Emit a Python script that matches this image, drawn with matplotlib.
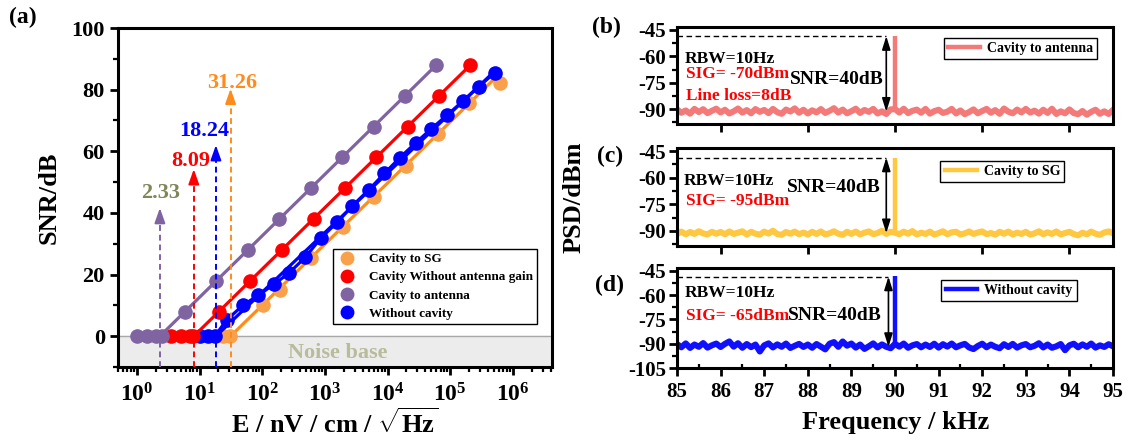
import numpy as np
import matplotlib
matplotlib.use('Agg')
import matplotlib.pyplot as plt
from matplotlib.ticker import LogLocator, MultipleLocator, FixedLocator, NullFormatter, LogFormatterMathtext
from matplotlib.lines import Line2D

plt.rcParams.update({
    'font.family': ['Liberation Serif', 'DejaVu Serif'],
    'font.weight': 'bold',
    'mathtext.fontset': 'custom',
    'mathtext.rm': 'Liberation Serif:bold',
    'mathtext.it': 'Liberation Serif:italic:bold',
    'mathtext.bf': 'Liberation Serif:bold',
    'axes.unicode_minus': False,
    'axes.linewidth': 2.2,
})

# ---------------- panel (a) data ----------------
sg_x = [23.5, 30.4, 102, 191, 595, 1920, 6100, 19600, 63000, 200000, 620000]
sg_y = [0, 0, 10, 15, 25.3, 35.3, 45.3, 55.3, 65.5, 75.6, 82]
sg_fit_x = [31.26, 560000]
sg_fit_y = [0, 84.4]

nogain_x = [3.5, 5.0, 7.0, 8.0, 20.5, 65, 207, 660, 2100, 6600, 21000, 66000, 210000]
nogain_y = [0, 0, 0, 0, 8, 18, 28, 38, 48, 58, 68, 78, 88]
nogain_fit_x = [8.09, 210000]
nogain_fit_y = [0, 88]

ant_x = [1.0, 1.45, 2.05, 2.5, 5.9, 18.5, 59, 188, 600, 1900, 6000, 19000, 60000]
ant_y = [0, 0, 0, 0, 8, 18, 28, 38, 48, 58, 68, 78, 88]
ant_fit_x = [2.33, 60000]
ant_fit_y = [0, 88]

nocav_x = [10, 13.5, 17.5, 27, 49, 87, 153, 268, 486, 867, 1580, 2750, 5020,
           8900, 15500, 28300, 50000, 89800, 160000, 283000, 510000]
nocav_y = [0, 0, 0, 5.2, 10, 13.3, 16.8, 20.5, 25.6, 31.9, 37, 42.3, 47.5,
           52.8, 57.8, 62.8, 67.3, 71.8, 76.3, 80.9, 85.5]
nocav_fit_x = [18.24, 510000]
nocav_fit_y = [0, 86]

thr_values = [2.33, 8.09, 18.24, 31.26]
thr_labels = ['2.33', '8.09', '18.24', '31.26']
thr_tops = [41.6, 54.2, 62.0, 80.3]

# ---------------- spectra data ----------------
freq = np.linspace(85, 95, 101)
psd_b = [-90.2, -92.1, -90.8, -92.6, -89.9, -91.7, -90.1, -92.3, -91.0, -89.8,
         -91.9, -90.4, -92.5, -91.3, -89.7, -92.0, -90.6, -92.4, -90.0, -91.6,
         -90.5, -92.3, -89.9, -91.8, -92.7, -90.3, -91.4, -89.6, -92.1, -90.4,
         -92.5, -90.7, -91.9, -90.0, -92.2, -91.0, -89.5, -92.0, -90.3, -92.4,
         -91.2, -89.8, -92.2, -90.5, -91.6, -89.9, -92.5, -91.3, -92.8, -90.2,
         -90.0, -92.0, -89.8, -92.3, -91.0, -90.3, -92.1, -89.9, -92.6, -91.2,
         -90.4, -92.2, -91.5, -89.9, -92.5, -90.8, -92.9, -91.7, -90.2, -92.4,
         -91.1, -89.9, -92.1, -90.6, -92.7, -89.7, -91.5, -92.4, -90.3, -91.9,
         -89.9, -92.0, -90.9, -92.6, -90.4, -92.2, -89.8, -92.8, -91.3, -92.4,
         -90.2, -92.3, -92.9, -91.1, -93.2, -91.6, -90.4, -92.7, -91.3, -92.8,
         -90.5]
psd_c = [-91.8, -90.4, -91.9, -90.6, -91.7, -90.2, -91.4, -92.0, -90.5, -91.6,
         -90.6, -91.9, -90.3, -91.7, -91.0, -90.2, -92.0, -90.5, -91.6, -92.1,
         -90.4, -91.5, -89.9, -91.8, -92.2, -90.6, -91.6, -90.4, -91.9, -90.9,
         -92.1, -90.5, -91.7, -90.3, -92.0, -91.3, -90.2, -91.6, -92.2, -90.5,
         -91.7, -90.4, -92.0, -91.0, -90.3, -91.8, -91.2, -89.9, -91.7, -90.5,
         -91.0, -91.9, -90.4, -91.6, -90.1, -92.0, -91.0, -91.7, -90.4, -92.1,
         -91.2, -90.2, -91.9, -90.8, -90.5, -92.0, -91.4, -90.3, -91.7, -90.9,
         -90.3, -91.8, -91.2, -92.1, -90.5, -91.6, -90.4, -92.0, -91.0, -91.7,
         -90.5, -92.1, -91.4, -90.2, -91.9, -90.8, -91.7, -90.3, -92.0, -91.2,
         -90.5, -91.8, -92.5, -91.0, -91.9, -90.4, -91.6, -92.2, -90.9, -90.3,
         -91.3]
psd_d = [-90.2, -92.2, -89.8, -92.6, -90.5, -91.9, -89.6, -92.4, -91.0, -89.9,
         -92.0, -90.1, -88.6, -91.8, -89.7, -92.5, -90.2, -92.1, -90.5, -94.8,
         -91.0, -89.8, -92.3, -90.4, -91.9, -89.9, -92.6, -91.3, -90.1, -92.0,
         -90.5, -92.5, -90.2, -91.8, -93.5, -90.0, -89.0, -91.9, -88.6, -91.2,
         -89.9, -92.4, -90.5, -93.2, -91.6, -89.8, -92.3, -90.4, -91.9, -92.8,
         -90.1, -91.8, -89.9, -92.5, -91.0, -90.2, -92.2, -90.5, -92.0, -90.0,
         -92.4, -90.3, -91.8, -89.9, -92.2, -91.0, -90.1, -92.3, -93.3, -91.4,
         -90.0, -92.2, -90.5, -91.9, -92.8, -90.3, -92.0, -90.1, -92.4, -91.0,
         -90.2, -92.2, -91.3, -89.7, -92.3, -90.5, -92.5, -91.6, -90.2, -94.0,
         -91.0, -90.0, -92.2, -90.4, -91.9, -89.9, -92.4, -91.0, -92.0, -90.3,
         -91.6]
peak_freq = 90.0
peak_tops = [-48.5, -48.8, -48.4]
snr_ref_levels = [-48.5, -48.7, -48.5]
noise_ref = [-91.5, -91.3, -92.0]
arrow_freq = [89.8, 89.8, 89.85]

# ---------------- figure ----------------
fig = plt.figure(figsize=(11.3, 4.45), dpi=100)
W, H = 1130, 445
def pos(l, t, r, b):
    return [l / W, 1 - b / H, (r - l) / W, (b - t) / H]

axa = fig.add_axes(pos(118, 28, 552, 367))

c_sg_pt, c_sg_ln = '#f9a04a', '#ff8c1a'
c_red = '#ff0000'
c_pur = '#8064a2'
c_blue = '#0000ff'

axa.axhspan(-10, 0, color='#ececec', zorder=0)
axa.axhline(0, color='#a8a8a8', lw=1.0, zorder=1)

lw = 2.3
ms = 9.5
axa.plot(sg_fit_x, sg_fit_y, color=c_sg_ln, lw=lw, zorder=3)
axa.plot(sg_x, sg_y, 'o', color=c_sg_pt, ms=ms, zorder=3)
axa.plot(nocav_x, nocav_y, '-', color=c_blue, lw=lw, zorder=4)
axa.plot(nocav_fit_x, nocav_fit_y, color=c_blue, lw=lw, zorder=4)
axa.plot(nocav_x, nocav_y, 'o', color=c_blue, ms=ms, zorder=4)
axa.plot(nogain_fit_x, nogain_fit_y, color=c_red, lw=lw, zorder=5)
axa.plot(nogain_x, nogain_y, 'o', color=c_red, ms=ms, zorder=5)
axa.plot(ant_fit_x, ant_fit_y, color=c_pur, lw=lw, zorder=5)
axa.plot(ant_x, ant_y, 'o', color=c_pur, ms=ms, zorder=5)

arrow_cols = [c_pur, c_red, c_blue, c_sg_ln]
label_cols = ['#7f8656', c_red, c_blue, c_sg_ln]
label_pos = [(2.38, 46.3), (7.3, 57.0), (12.0, 66.6), (33.0, 82.2)]
for xv, top, col, lab, lcol, lp in zip(thr_values, thr_tops, arrow_cols, thr_labels, label_cols, label_pos):
    axa.plot([xv, xv], [-10, top - 3], ls=(0, (3, 2)), color=col, lw=1.4, zorder=6)
    axa.annotate('', xy=(xv, top), xytext=(xv, top - 3.5),
                 arrowprops=dict(arrowstyle='-|>,head_length=0.9,head_width=0.32',
                                 color=col, lw=1.4, shrinkA=0, shrinkB=0), zorder=6)
    axa.text(lp[0], lp[1], lab, color=lcol, fontsize=16, fontweight='bold',
             ha='center', va='center', zorder=7)

axa.text(1600, -5.4, 'Noise base', color='#b9bc9c', fontsize=16, fontweight='bold',
         ha='center', va='center', zorder=2)

axa.set_xscale('log')
axa.set_xlim(0.5, 4.2e6)
axa.set_ylim(-10, 100)
axa.xaxis.set_major_locator(LogLocator(base=10, numticks=12))
axa.xaxis.set_major_formatter(LogFormatterMathtext())
axa.xaxis.set_minor_locator(LogLocator(base=10, subs=np.arange(2, 10), numticks=12))
axa.xaxis.set_minor_formatter(NullFormatter())
axa.set_xticks([1, 10, 100, 1e3, 1e4, 1e5, 1e6])
axa.yaxis.set_major_locator(MultipleLocator(20))
axa.yaxis.set_minor_locator(MultipleLocator(10))
axa.tick_params(axis='both', which='major', direction='out', length=6, width=2, labelsize=16)
axa.tick_params(axis='x', which='major', labelsize=17)
axa.tick_params(axis='both', which='minor', direction='out', length=3.5, width=1.6)
axa.tick_params(axis='x', which='major', pad=6)
axa.set_ylabel('SNR/dB', fontsize=19, fontweight='bold', labelpad=8)
axa.set_xlabel(r'E / nV / cm / $\sqrt{\mathrm{Hz}}$', fontsize=19, fontweight='bold', labelpad=1)

handles = [Line2D([], [], marker='o', ls='none', color=c_sg_pt, ms=9),
           Line2D([], [], marker='o', ls='none', color=c_red, ms=9),
           Line2D([], [], marker='o', ls='none', color=c_pur, ms=9),
           Line2D([], [], marker='o', ls='none', color=c_blue, ms=9)]
names = ['Cavity to SG', 'Cavity Without antenna gain', 'Cavity to antenna', 'Without cavity']
lega = axa.legend(handles, names, loc='upper right', bbox_to_anchor=(0.965, 0.348),
                  borderaxespad=0, fancybox=False, edgecolor='black', framealpha=1,
                  prop={'size': 9.5, 'weight': 'bold'}, handlelength=1.5, handletextpad=0.9,
                  labelspacing=0.45, borderpad=0.3)
lega.get_frame().set_linewidth(1.0)

fig.text(23 / W, 1 - 17 / H, '(a)', fontsize=17, fontweight='bold', ha='center', va='center')

# ---------------- spectra panels ----------------
spec_boxes = [(677, 27, 1113, 124), (677, 148, 1113, 246), (677, 268, 1113, 368)]
spec_data = [psd_b, psd_c, psd_d]
spec_cols = ['#f47a7a', '#ffc840', '#1010ff']
spec_names = ['Cavity to antenna', 'Cavity to SG', 'Without cavity']
spec_ylims = [(-98.5, -43.3), (-98.5, -43.3), (-105, -43.2)]
leg_anchor = [(0.963, 0.887), (0.888, 0.867), (0.917, 0.88)]
sig_texts = ['SIG= -70dBm', 'SIG= -95dBm', 'SIG= -65dBm']
panel_labels = [('(b)', 606, 27), ('(c)', 610, 156), ('(d)', 610, 285)]

for i in range(3):
    ax = fig.add_axes(pos(*spec_boxes[i]))
    col = spec_cols[i]
    ax.plot(freq, spec_data[i], color=col, lw=4.4, solid_joinstyle='round')
    ax.plot([peak_freq, peak_freq], [spec_data[i][50], peak_tops[i]], color=col, lw=3.2,
            solid_capstyle='butt')
    ax.plot([85, arrow_freq[i]], [snr_ref_levels[i]] * 2, color='black', lw=1.0, ls=(0, (4, 2.5)))
    ax.annotate('', xy=(arrow_freq[i], snr_ref_levels[i]), xytext=(arrow_freq[i], noise_ref[i]),
                arrowprops=dict(arrowstyle='<|-|>,head_length=0.8,head_width=0.25',
                                color='black', lw=1.2, shrinkA=0, shrinkB=0))
    ax.set_xlim(85, 95)
    ax.set_ylim(*spec_ylims[i])
    ax.yaxis.set_major_locator(FixedLocator([-45, -60, -75, -90] + ([-105] if i == 2 else [])))
    ax.yaxis.set_minor_locator(MultipleLocator(7.5))
    ax.tick_params(axis='y', which='major', direction='out', length=6, width=2, labelsize=15, pad=2)
    ax.tick_params(axis='y', which='minor', direction='out', length=3.5, width=1.6)
    if i < 2:
        ax.xaxis.set_major_locator(FixedLocator([86, 88, 90, 92, 94]))
        ax.xaxis.set_minor_locator(FixedLocator([]))
        ax.tick_params(axis='x', which='major', direction='out', length=6, width=2, labelbottom=False)
    else:
        ax.xaxis.set_major_locator(MultipleLocator(1))
        ax.xaxis.set_minor_locator(MultipleLocator(0.5))
        ax.tick_params(axis='x', which='major', direction='out', length=6, width=2, labelsize=15, pad=4)
        ax.tick_params(axis='x', which='minor', direction='in', length=3, width=1.6)
    leg = ax.legend([Line2D([], [], color=col, lw=3.2)], [spec_names[i]], loc='upper right',
                    bbox_to_anchor=leg_anchor[i], borderaxespad=0, fancybox=False,
                    edgecolor='black', framealpha=1, prop={'size': 10, 'weight': 'bold'},
                    handlelength=2.3, handletextpad=0.5, borderpad=0.3)
    leg.get_frame().set_linewidth(1.0)
    lab, lx, ly = panel_labels[i]
    fig.text(lx / W, 1 - ly / H, lab, fontsize=17, fontweight='bold', ha='center', va='center')

def ftxt(x, y, s, color='black', size=12.5):
    fig.text(x / W, 1 - y / H, s, color=color, fontsize=size, fontweight='bold',
             ha='left', va='center')

# (b)
ftxt(685, 59, 'RBW=10Hz')
ftxt(686, 74, sig_texts[0], color='#ff0000')
ftxt(686, 96, 'Line loss=8dB', color='#ff0000')
ftxt(790, 80, 'SNR=40dB', size=14)
# (c)
ftxt(684, 181, 'RBW=10Hz')
ftxt(686, 201, sig_texts[1], color='#ff0000')
ftxt(787, 188, 'SNR=40dB', size=14)
# (d)
ftxt(685, 293, 'RBW=10Hz')
ftxt(686, 316, sig_texts[2], color='#ff0000')
ftxt(788, 316, 'SNR=40dB', size=14)

fig.text(574 / W, 1 - 197 / H, 'PSD/dBm', fontsize=19, fontweight='bold', rotation=90,
         ha='center', va='center')
fig.text(896 / W, 1 - 423 / H, 'Frequency / kHz', fontsize=19, fontweight='bold',
         ha='center', va='center')

fig.savefig('out.png', dpi=100)
